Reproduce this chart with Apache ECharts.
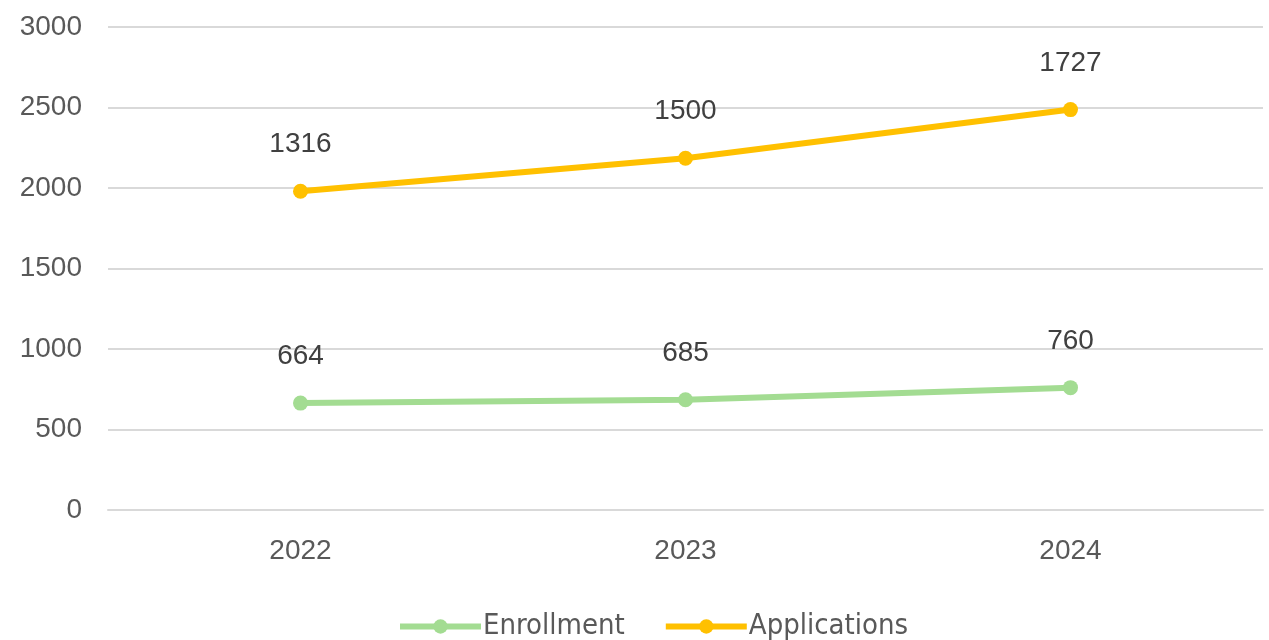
<!DOCTYPE html>
<html><head><meta charset="utf-8">
<script src="https://cdn.jsdelivr.net/npm/echarts@6/dist/echarts.min.js"></script>
<style>html,body{margin:0;padding:0;background:#fff}#c{width:1269px;height:640px}</style>
</head><body><div id="c"></div>
<script>
const categories = ['2022', '2023', '2024'];
const enrollment = [664, 685, 760];
const applications = [1316, 1500, 1727];
const yTicks = [0, 500, 1000, 1500, 2000, 2500, 3000];

const chart = echarts.init(document.getElementById('c'));
const font = 'Liberation Sans, Arial, sans-serif';
function mk(name, data, color) {
  return {
    name: name, type: 'line', stack: 'total', data: data,
    symbol: 'circle', symbolSize: 15,
    lineStyle: {width: 6, color: color},
    itemStyle: {color: color},
    label: {show: true, position: 'top', distance: 25, fontSize: 28, color: '#404040', fontFamily: font},
    emphasis: {disabled: true}
  };
}
chart.setOption({
  animation: false,
  grid: {left: 108, right: 6, top: 27, bottom: 130},
  legend: {
    top: 607, left: 392, itemWidth: 81, itemHeight: 18, itemGap: 38,
    lineStyle: {width: 6},
    textStyle: {fontSize: 29, color: '#595959', fontFamily: 'DejaVu Sans Condensed, sans-serif', padding: [0, 0, 0, -3]},
    data: ['Enrollment', 'Applications']
  },
  xAxis: {
    type: 'category', data: categories,
    axisLine: {show: true, lineStyle: {color: '#d9d9d9', width: 2}},
    axisTick: {show: false},
    axisLabel: {fontSize: 28, color: '#595959', margin: 27, fontFamily: font}
  },
  yAxis: {
    type: 'value', min: yTicks[0], max: yTicks[yTicks.length - 1], interval: 500,
    axisLine: {show: false}, axisTick: {show: false},
    splitLine: {lineStyle: {color: '#d9d9d9', width: 2}},
    axisLabel: {fontSize: 28, color: '#595959', margin: 26, fontFamily: font,
      formatter: function (v) { return String(v); }}
  },
  series: [
    mk('Enrollment', enrollment, '#a3dc92'),
    mk('Applications', applications, '#ffc000')
  ]
});
</script></body></html>
